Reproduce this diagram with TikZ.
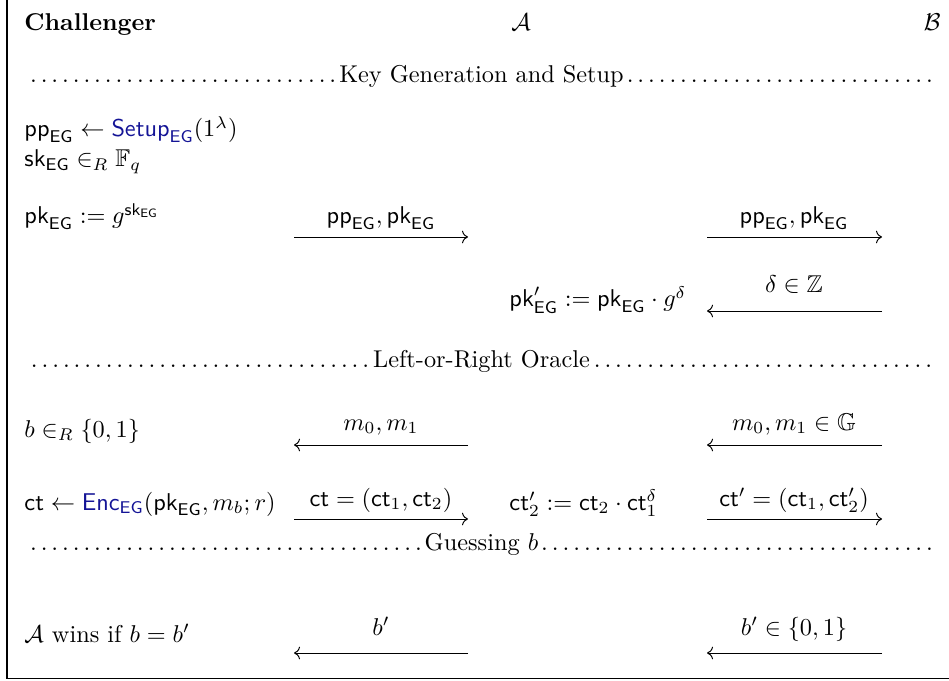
\documentclass[tikz,border=0pt]{standalone}
\usepackage{amsmath,amssymb}
\usetikzlibrary{arrows.meta}
\definecolor{algblue}{RGB}{20,20,150}
\newcommand{\sEG}{\mathsf{EG}}
\newcommand{\ppEG}{\mathsf{pp}_{\sEG}}
\newcommand{\pkEG}{\mathsf{pk}_{\sEG}}
\newcommand{\skEG}{\mathsf{sk}_{\sEG}}
\newcommand{\mct}{\mathsf{ct}}
\tikzset{
  txt/.style={inner sep=0pt, anchor=base west},
  lbl/.style={inner sep=0pt, anchor=base},
  msg/.style={line width=0.4pt, -{Computer Modern Rightarrow}},
  sepline/.style={inner sep=0pt, anchor=base}
}
\begin{document}
\begin{tikzpicture}[x=0.4115pt, y=-0.4115pt]
\useasboundingbox (0,0) rectangle (949,681);
\draw[line width=0.5pt] (7,0) -- (7,678.5) -- (949,678.5);

% header
\node[txt] (chal) at (24,31) {\textbf{Challenger}};
\node[lbl] (advA) at (521,31) {$\mathcal{A}$};
\node[inner sep=0pt, anchor=base east] (advB) at (941,31) {$\mathcal{B}$};

% section 1
\node[sepline] (sep1) at (481.5,83) {\makebox[374pt]{\dotfill Key Generation and Setup\dotfill}};
\node[txt] (setup) at (24,137) {$\ppEG \leftarrow \textcolor{algblue}{\mathsf{Setup}_{\sEG}}(1^{\lambda})$};
\node[txt] (sk) at (24,167) {$\skEG \in_R \mathbb{F}_q$};
\node[txt] (pk) at (24,224) {$\pkEG := g^{\skEG}$};

\coordinate (a1s) at (294,237); \coordinate (a1e) at (468,237);
\node[lbl] (l1) at (381,224) {$\ppEG, \pkEG$};
\draw[msg] (a1s) -- (a1e);
\coordinate (a2s) at (707,237); \coordinate (a2e) at (882,237);
\node[lbl] (l2) at (794,224) {$\ppEG, \pkEG$};
\draw[msg] (a2s) -- (a2e);

\node[txt] (pkp) at (509,307) {$\mathsf{pk}'_{\sEG} := \pkEG \cdot g^{\delta}$};
\coordinate (a3s) at (882,311); \coordinate (a3e) at (707,311);
\node[lbl] (l3) at (794,293) {$\delta \in \mathbb{Z}$};
\draw[msg] (a3s) -- (a3e);

% section 2
\node[sepline] (sep2) at (481.5,368) {\makebox[374pt]{\dotfill Left-or-Right Oracle\dotfill}};
\node[txt] (bsel) at (24,437) {$b \in_R \{0,1\}$};
\coordinate (a4s) at (468,445); \coordinate (a4e) at (294,445);
\node[lbl] (l4) at (381,430) {$m_0, m_1$};
\draw[msg] (a4s) -- (a4e);
\coordinate (a5s) at (882,445); \coordinate (a5e) at (707,445);
\node[lbl] (l5) at (794,430) {$m_0, m_1 \in \mathbb{G}$};
\draw[msg] (a5s) -- (a5e);

\node[txt] (enc) at (24,510) {$\mct \leftarrow \textcolor{algblue}{\mathsf{Enc}_{\sEG}}(\pkEG, m_b; r)$};
\coordinate (a6s) at (294,519); \coordinate (a6e) at (468,519);
\node[lbl] (l6) at (381,506) {$\mct = (\mct_1, \mct_2)$};
\draw[msg] (a6s) -- (a6e);
\node[txt] (ctp) at (509,510) {$\mct'_2 := \mct_2 \cdot \mct_1^{\delta}$};
\coordinate (a7s) at (707,519); \coordinate (a7e) at (882,519);
\node[lbl] (l7) at (794,506) {$\mct' = (\mct_1, \mct'_2)$};
\draw[msg] (a7s) -- (a7e);

% section 3
\node[sepline] (sep3) at (481.5,550) {\makebox[374pt]{\dotfill Guessing $b$\dotfill}};
\node[txt] (win) at (24,642) {$\mathcal{A}$ wins if $b = b'$};
\coordinate (a8s) at (468,653); \coordinate (a8e) at (294,653);
\node[lbl] (l8) at (381,635) {$b'$};
\draw[msg] (a8s) -- (a8e);
\coordinate (a9s) at (882,653); \coordinate (a9e) at (707,653);
\node[lbl] (l9) at (794,635) {$b' \in \{0,1\}$};
\draw[msg] (a9s) -- (a9e);
\end{tikzpicture}
\end{document}
